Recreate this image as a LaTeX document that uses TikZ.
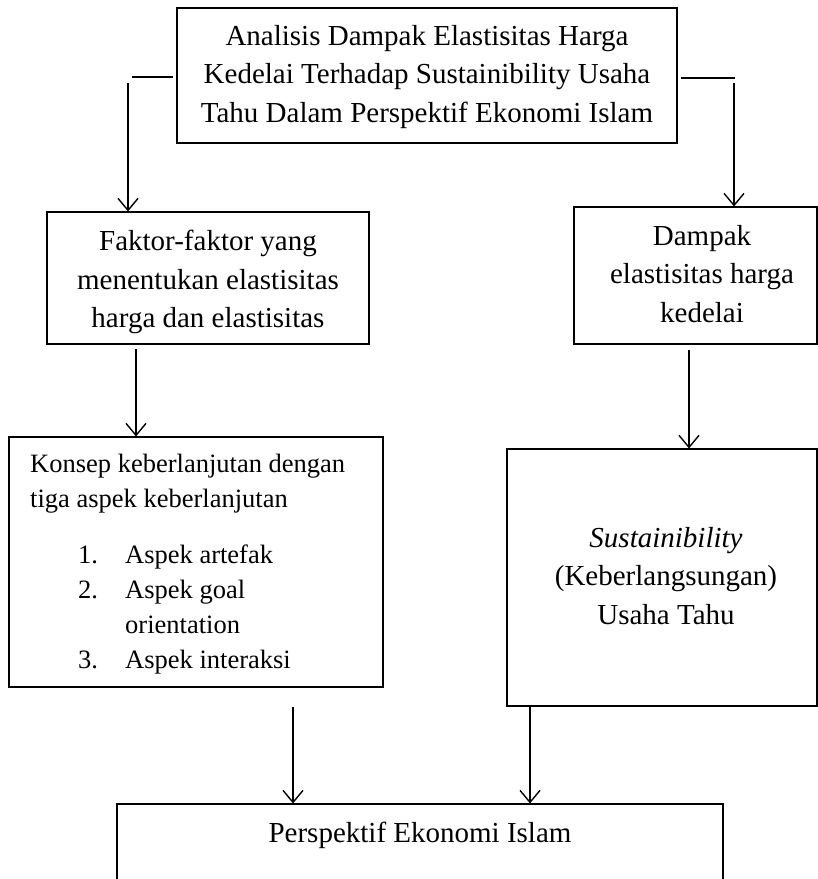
\documentclass[tikz,border=0pt]{standalone}
\usepackage{fontspec}
\setmainfont{Liberation Serif}
\usetikzlibrary{arrows.meta}
\begin{document}
\begin{tikzpicture}[x=1bp,y=-1bp,
  box/.style={draw=black, line width=1.1bp, inner sep=0pt},
  txt/.style={inner sep=0pt, align=center, font=\fontsize{29bp}{38.3bp}\selectfont},
  ktxt/.style={inner sep=0pt, align=left, font=\fontsize{26.5bp}{35bp}\selectfont},
  conn/.style={line width=1.4bp},
  arr/.style={conn, -{Straight Barb[length=12bp,width=20bp]}}]
\useasboundingbox (0,0) rectangle (818,879);
\fill[white] (0,0) rectangle (818,879);
\clip (0,0) rectangle (818,879);
% boxes
\node[box, minimum width=500bp, minimum height=135bp] (T) at (427,75.5) {};
\node[box, minimum width=322bp, minimum height=132bp] (F) at (208,278) {};
\node[box, minimum width=243bp, minimum height=137bp] (D) at (695.5,275.5) {};
\node[box, minimum width=374bp, minimum height=250bp] (K) at (196,562) {};
\node[box, minimum width=310bp, minimum height=257bp] (S) at (662,577.5) {};
\node[box, minimum width=606bp, minimum height=156bp] (B) at (420,882) {};
% texts
\node[txt, anchor=north] (Tt) at (427,25.2) {Analisis Dampak Elastisitas Harga\\Kedelai Terhadap Sustainibility Usaha\\Tahu Dalam Perspektif Ekonomi Islam};
\node[txt, anchor=north] (Ft) at (208,230.2) {Faktor-faktor yang\\menentukan elastisitas\\harga dan elastisitas};
\node[txt, anchor=north] (Dt) at (702,225.2) {Dampak\\elastisitas harga\\kedelai};
\node[ktxt, anchor=north west] (Kt) at (30,453.9) {Konsep keberlanjutan dengan\\tiga aspek keberlanjutan\\[21bp]\hspace*{48bp}\makebox[47bp][l]{1.}Aspek artefak\\\hspace*{48bp}\makebox[47bp][l]{2.}Aspek goal\\\hspace*{95bp}orientation\\\hspace*{48bp}\makebox[47bp][l]{3.}Aspek interaksi};
\node[txt, anchor=north] (St) at (666,527.2) {\textit{Sustainibility}\\(Keberlangsungan)\\Usaha Tahu};
\node[txt, anchor=north] (Bt) at (420,822.2) {Perspektif Ekonomi Islam};
% connectors
\coordinate (la) at (173,77);
\coordinate (lb) at (132,77);
\coordinate (lc) at (128,83);
\draw[conn] (la) -- (lb);
\draw[arr] (lc) -- (lc |- F.north);
\coordinate (ra) at (681,78);
\coordinate (rb) at (735,78);
\coordinate (rc) at (734,83);
\draw[conn] (ra) -- (rb);
\draw[arr] (rc) -- (rc |- D.north);
\coordinate (fk) at (136,349);
\draw[arr] (fk) -- (fk |- K.north);
\coordinate (ds) at (689,350);
\draw[arr] (ds) -- (ds |- S.north);
\coordinate (kb) at (293,707);
\draw[arr] (kb) -- (kb |- B.north);
\coordinate (sb) at (530,706);
\draw[arr] (sb) -- (sb |- B.north);
\end{tikzpicture}
\end{document}
